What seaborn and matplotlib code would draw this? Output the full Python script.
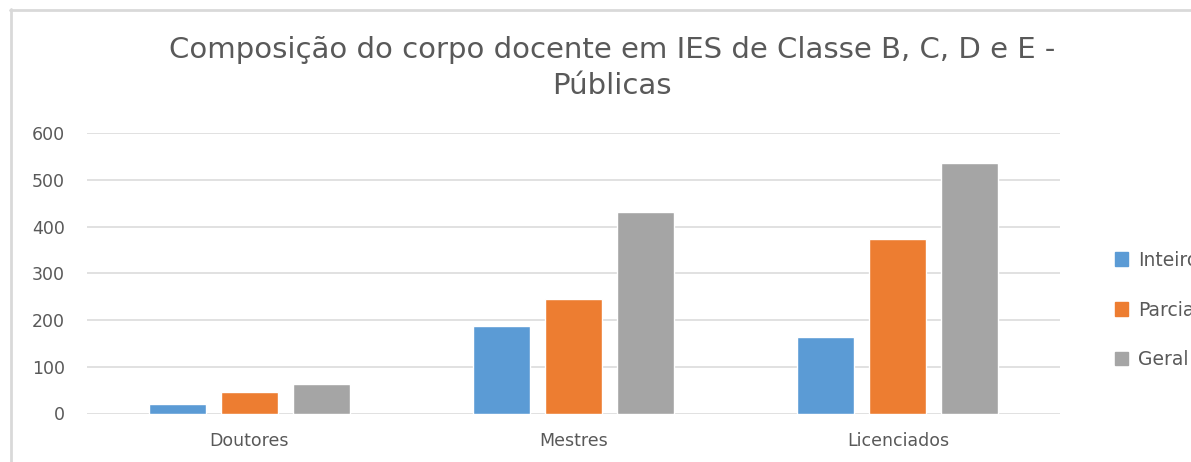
import matplotlib
matplotlib.use("Agg")
import matplotlib.pyplot as plt
import seaborn as sns
import pandas as pd
from matplotlib.patches import Patch
from matplotlib.lines import Line2D

categories = ["Doutores", "Mestres", "Licenciados"]
series_names = ["Inteiro", "Parcial", "Geral"]
inteiro = [20, 187, 163]
parcial = [45, 245, 373]
geral = [64, 432, 536]
colors = ["#5B9BD5", "#ED7D31", "#A5A5A5"]
title = "Composição do corpo docente em IES de Classe B, C, D e E -\nPúblicas"
yticks = [0, 100, 200, 300, 400, 500, 600]

rows = []
for name, vals in zip(series_names, [inteiro, parcial, geral]):
    for c, v in zip(categories, vals):
        rows.append({"cat": c, "serie": name, "valor": v})
df = pd.DataFrame(rows)

sns.set_theme(style="white")
plt.rcParams["font.family"] = ["DejaVu Sans"]
txt = "#595959"
grid = "#d9d9d9"

fig = plt.figure(figsize=(11.91, 4.62), dpi=100)
ax = fig.add_axes([87/1191, 1-413.5/462, (1060-87)/1191, (413.5-133)/462])

sns.barplot(data=df, x="cat", y="valor", hue="serie", order=categories,
            hue_order=series_names, palette=colors, width=0.667, gap=0.21,
            ax=ax, legend=False, saturation=1, zorder=3)

ax.set_ylim(0, 600)
ax.set_yticks(yticks)
ax.set_xlim(-0.5, 2.5)
ax.yaxis.grid(True, color=grid, linewidth=1.1, zorder=0)
ax.set_axisbelow(True)
for s in ax.spines.values():
    s.set_visible(False)
ax.tick_params(axis="both", length=0, colors=txt, labelsize=12.5)
ax.tick_params(axis="y", pad=16)
ax.tick_params(axis="x", pad=13)
ax.set_xlabel("")
ax.set_ylabel("")

fig.text(612/1191, 1-68/462, title, ha="center", va="center", fontsize=21,
         color=txt, linespacing=1.4)

handles = [Patch(facecolor=c, edgecolor=c) for c in colors]
fig.legend(handles, series_names, loc="center left",
           bbox_to_anchor=(1098/1191, 1-310/462), frameon=False,
           fontsize=13.5, labelcolor=txt, labelspacing=1.65,
           handlelength=0.7, handleheight=0.7, handletextpad=0.55)

fig.add_artist(Line2D([10.5/1191, 10.5/1191], [0, 1-9/462], transform=fig.transFigure,
                      color=grid, linewidth=2))
fig.add_artist(Line2D([10/1191, 1], [1-9.5/462, 1-9.5/462], transform=fig.transFigure,
                      color=grid, linewidth=2))

fig.savefig("out.png", dpi=100, facecolor="white")
